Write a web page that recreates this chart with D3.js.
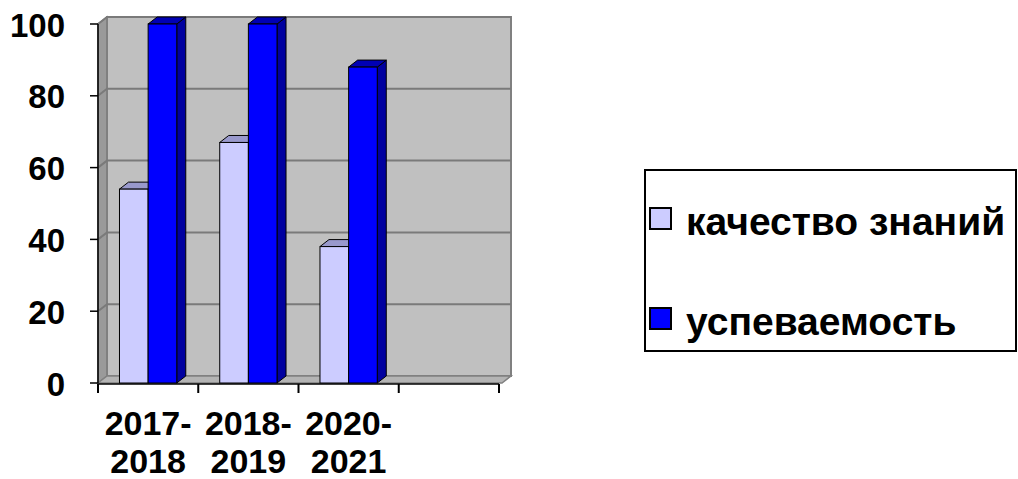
<!DOCTYPE html>
<html>
<head>
<meta charset="utf-8">
<script src="https://cdn.jsdelivr.net/npm/d3@7"></script>
<style>
  html, body { margin: 0; padding: 0; background: #fff; }
  svg { display: block; font-family: Arial, "Liberation Sans", sans-serif; font-weight: bold; }
</style>
</head>
<body>
<div id="chart"></div>
<script>
const categories = ["2017-2018", "2018-2019", "2020-2021", ""];
const labelLines = [["2017-", "2018"], ["2018-", "2019"], ["2020-", "2021"], []];
const seriesNames = ["качество знаний", "успеваемость"];
const quality = [54, 67, 38, null];
const progress = [100, 100, 88, null];
const yTicks = [0, 20, 40, 60, 80, 100];

const width = 1018, height = 479;
const depthX = 9, depthY = -7;

const svg = d3.select("#chart").append("svg")
  .attr("width", width)
  .attr("height", height);

const x = d3.scaleBand().domain(categories).range([98, 499]);
const x1 = d3.scaleBand().domain(seriesNames).range([0, x.bandwidth()]).paddingOuter(0.75);
const y = d3.scaleLinear().domain([0, 100]).range([383, 24]);

const plotLeft = x.range()[0], plotRight = x.range()[1];
const plotBottom = y(0), plotTop = y(100);

// side wall
svg.append("polygon")
  .attr("points", [[plotLeft, plotTop], [plotLeft + depthX, plotTop + depthY], [plotLeft + depthX, plotBottom + depthY], [plotLeft, plotBottom]].join(" "))
  .attr("fill", "#9a9a9a")
  .attr("stroke", "#7a7a7a")
  .attr("stroke-width", 1.5);

// back wall
svg.append("rect")
  .attr("x", plotLeft + depthX)
  .attr("y", plotTop + depthY)
  .attr("width", plotRight - plotLeft + 3)
  .attr("height", plotBottom - plotTop)
  .attr("fill", "#c0c0c0")
  .attr("stroke", "#808080")
  .attr("stroke-width", 2);

// floor
svg.append("polygon")
  .attr("points", [[plotLeft, plotBottom], [plotLeft + depthX, plotBottom + depthY], [plotRight + depthX + 3, plotBottom + depthY], [plotRight + 3, plotBottom]].join(" "))
  .attr("fill", "#b4b4b4")
  .attr("stroke", "#808080")
  .attr("stroke-width", 1.5);

// gridlines
yTicks.filter(t => t > 0).forEach(t => {
  svg.append("polyline")
    .attr("points", [[plotLeft, y(t)], [plotLeft + depthX, y(t) + depthY], [plotRight + depthX + 3, y(t) + depthY]].join(" "))
    .attr("fill", "none")
    .attr("stroke", "#7a7a7a")
    .attr("stroke-width", 2);
});

// bars
const colors = {
  "качество знаний": { front: "#ccccff", top: "#9999cc", side: "#8080b8" },
  "успеваемость": { front: "#0000ff", top: "#0000b4", side: "#0000a0" }
};

const groups = categories.map((c, i) => ({
  cat: c,
  values: [
    { name: seriesNames[0], value: quality[i] },
    { name: seriesNames[1], value: progress[i] }
  ].filter(d => d.value !== null)
}));

const g = svg.selectAll(".cat")
  .data(groups)
  .enter()
  .append("g")
  .attr("class", "cat")
  .attr("transform", d => `translate(${x(d.cat)},0)`);

const bars = g.selectAll(".bar")
  .data(d => d.values)
  .enter()
  .append("g")
  .attr("class", "bar");

bars.each(function(d) {
  const b = d3.select(this);
  const x0 = x1(d.name), w = x1.bandwidth();
  const yt = y(d.value), yb = y(0);
  const c = colors[d.name];
  b.append("polygon")
    .attr("points", [[x0 + w, yt], [x0 + w + depthX, yt + depthY], [x0 + w + depthX, yb + depthY], [x0 + w, yb]].join(" "))
    .attr("fill", c.side).attr("stroke", "#000").attr("stroke-width", 1);
  b.append("polygon")
    .attr("points", [[x0, yt], [x0 + depthX, yt + depthY], [x0 + w + depthX, yt + depthY], [x0 + w, yt]].join(" "))
    .attr("fill", c.top).attr("stroke", "#000").attr("stroke-width", 1);
  b.append("rect")
    .attr("x", x0).attr("y", yt)
    .attr("width", w).attr("height", yb - yt)
    .attr("fill", c.front).attr("stroke", "#000").attr("stroke-width", 1);
});

// y axis
svg.append("line")
  .attr("x1", plotLeft).attr("x2", plotLeft)
  .attr("y1", plotTop).attr("y2", plotBottom)
  .attr("stroke", "#000").attr("stroke-width", 1.5);

const yAxis = svg.append("g");
yTicks.forEach(t => {
  yAxis.append("line")
    .attr("x1", plotLeft - 8).attr("x2", plotLeft)
    .attr("y1", y(t)).attr("y2", y(t))
    .attr("stroke", "#000").attr("stroke-width", 1.5);
  yAxis.append("text")
    .attr("x", 65)
    .attr("y", y(t) + 12.5)
    .attr("text-anchor", "end")
    .style("font-size", "33px")
    .text(t);
});

// x axis
svg.append("line")
  .attr("x1", plotLeft).attr("x2", plotRight)
  .attr("y1", plotBottom + 1).attr("y2", plotBottom + 1)
  .attr("stroke", "#000").attr("stroke-width", 1.5);

const boundaries = categories.map(c => x(c)).concat([plotRight]);
boundaries.forEach(bx => {
  svg.append("line")
    .attr("x1", bx).attr("x2", bx)
    .attr("y1", plotBottom + 1).attr("y2", plotBottom + 10)
    .attr("stroke", "#000").attr("stroke-width", 2);
});

categories.forEach((c, i) => {
  const t = svg.append("text")
    .attr("x", x(c) + x.bandwidth() / 2)
    .attr("y", 435)
    .attr("text-anchor", "middle")
    .style("font-size", "34px");
  labelLines[i].forEach((line, k) => {
    t.append("tspan")
      .attr("x", x(c) + x.bandwidth() / 2)
      .attr("dy", k === 0 ? 0 : 38)
      .text(line);
  });
});

// legend
const legend = svg.append("g");
legend.append("rect")
  .attr("x", 645).attr("y", 170)
  .attr("width", 371).attr("height", 181)
  .attr("fill", "#fff")
  .attr("stroke", "#000").attr("stroke-width", 2);

seriesNames.forEach((name, i) => {
  const ly = 208 + i * 100;
  legend.append("rect")
    .attr("x", 650).attr("y", ly)
    .attr("width", 21).attr("height", 21)
    .attr("fill", colors[name].front)
    .attr("stroke", "#000").attr("stroke-width", 2);
  legend.append("text")
    .attr("x", 686).attr("y", ly + 27)
    .style("font-size", "39px")
    .text(name);
});
</script>
</body>
</html>
